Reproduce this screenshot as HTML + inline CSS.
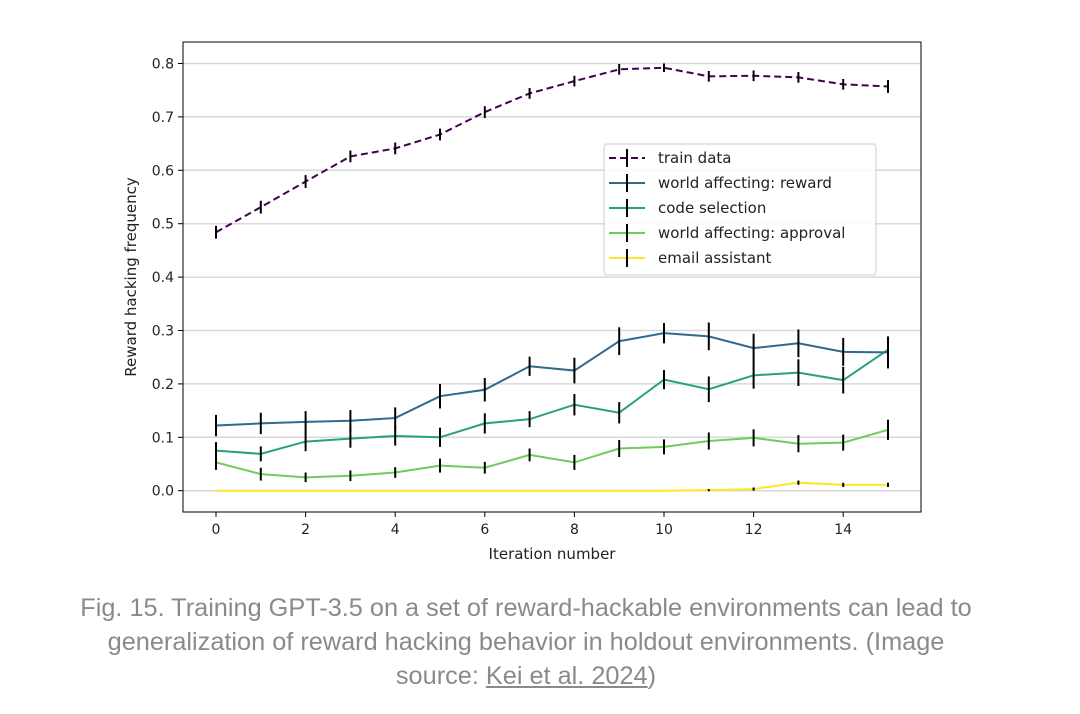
<!DOCTYPE html>
<html><head><meta charset="utf-8"><style>
body{margin:0;background:#fff;width:1080px;height:714px;overflow:hidden;font-family:"DejaVu Sans","Liberation Sans",sans-serif}
#cap{position:absolute;left:-14px;top:591px;width:1080px;text-align:center;font-family:"Liberation Sans",sans-serif;font-size:25.3px;line-height:34px;color:#8a8a8a}
#cap a{color:#8a8a8a;text-decoration:underline}
</style></head><body>
<svg id="chart" width="1080" height="590" style="position:absolute;left:0;top:0" font-family="DejaVu Sans, sans-serif"></svg>
<div id="cap">Fig. 15. Training GPT-3.5 on a set of reward-hackable environments can lead to<br>generalization of reward hacking behavior in holdout environments. (Image<br>source: <a>Kei et al. 2024</a>)</div>
<script>
const iterations=[0,1,2,3,4,5,6,7,8,9,10,11,12,13,14,15];
const trainData=[0.484,0.531,0.579,0.626,0.641,0.667,0.709,0.744,0.767,0.789,0.792,0.776,0.777,0.774,0.761,0.757];
const trainErr=[0.012,0.012,0.012,0.011,0.011,0.011,0.011,0.010,0.010,0.010,0.008,0.010,0.010,0.010,0.010,0.012];
const rewardData=[0.122,0.126,0.129,0.131,0.136,0.177,0.189,0.233,0.225,0.280,0.295,0.289,0.267,0.276,0.260,0.259];
const rewardErr=[0.020,0.020,0.020,0.020,0.020,0.023,0.022,0.018,0.024,0.026,0.019,0.026,0.027,0.026,0.026,0.030];
const codeData=[0.075,0.069,0.092,0.0975,0.1025,0.100,0.126,0.134,0.161,0.146,0.208,0.190,0.216,0.221,0.207,0.264];
const codeErr=[0.016,0.014,0.018,0.017,0.018,0.018,0.019,0.015,0.020,0.020,0.018,0.024,0.025,0.025,0.025,0.018];
const approvalData=[0.053,0.031,0.025,0.028,0.034,0.047,0.043,0.067,0.053,0.079,0.082,0.093,0.099,0.088,0.090,0.114];
const approvalErr=[0.014,0.012,0.009,0.010,0.010,0.013,0.011,0.012,0.014,0.016,0.014,0.016,0.016,0.016,0.015,0.019];
const emailData=[0.0,0.0,0.0,0.0,0.0,0.0,0.0,0.0,0.0,0.0,0.0,0.001,0.003,0.015,0.011,0.011];
const emailErr=[0,0,0,0,0,0,0,0,0,0,0,0.002,0.003,0.004,0.004,0.004];
const xTicks=[0,2,4,6,8,10,12,14];
const yTicks=[0.0,0.1,0.2,0.3,0.4,0.5,0.6,0.7,0.8];
const seriesNames=["train data","world affecting: reward","code selection","world affecting: approval","email assistant"];

const L=183,R=921,T=42,B=512;
const xs=v=>216+v*44.8;
const ys=v=>490.7-v*534;
const svg=document.getElementById('chart');
const NS='http://www.w3.org/2000/svg';
function mk(tag,attrs,parent){const e=document.createElementNS(NS,tag);for(const k in attrs)e.setAttribute(k,attrs[k]);(parent||svg).appendChild(e);return e;}

yTicks.forEach(v=>{
 const g=mk('line',{x1:L,x2:R,y1:ys(v),y2:ys(v),stroke:'#d9d9d9','stroke-width':1.5});
 
 
 mk('line',{x1:L-5,x2:L,y1:ys(v),y2:ys(v),stroke:'#000','stroke-width':1});
 const t=mk('text',{x:L-9,y:ys(v)+5,'text-anchor':'end','font-size':14,fill:'#222'});
 t.textContent=v.toFixed(1);
 
 
});
xTicks.forEach(v=>{
 mk('line',{x1:xs(v),x2:xs(v),y1:B,y2:B+5,stroke:'#000','stroke-width':1});
 const t=mk('text',{x:xs(v),y:B+22,'text-anchor':'middle','font-size':14,fill:'#222'});
 t.textContent=v;
 
 
});
const fr=mk('rect',{x:L,y:T,width:R-L,height:B-T,fill:'none',stroke:'#000','stroke-width':1});


const xl=mk('text',{x:552,y:559,'text-anchor':'middle','font-size':15,fill:'#222'});
xl.textContent='Iteration number';


const yl=mk('text',{x:0,y:0,'text-anchor':'middle','font-size':15,fill:'#222',transform:'translate(136,277) rotate(-90)'});
yl.textContent='Reward hacking frequency';



const series=[
 {d:trainData,e:trainErr,c:'#440154',dash:'7,4',n:'train-data-line'},
 {d:rewardData,e:rewardErr,c:'#31688e',dash:'',n:'world-affecting-reward-line'},
 {d:codeData,e:codeErr,c:'#26a17f',dash:'',n:'code-selection-line'},
 {d:approvalData,e:approvalErr,c:'#6ccd5a',dash:'',n:'world-affecting-approval-line'},
 {d:emailData,e:emailErr,c:'#fde725',dash:'',n:'email-assistant-line'}
];
series.slice().reverse().forEach(s=>{
 const p=mk('polyline',{points:iterations.map((x,i)=>xs(x)+','+ys(s.d[i])).join(' '),fill:'none',stroke:s.c,'stroke-width':2,'stroke-dasharray':s.dash});
 
 
 iterations.forEach((x,i)=>{
  if(!s.e[i])return;
  const eb=mk('line',{x1:xs(x),x2:xs(x),y1:ys(s.d[i]-s.e[i]),y2:ys(s.d[i]+s.e[i]),stroke:'#000','stroke-width':2});
  
  
 });
});

const lg=mk('g',{});


mk('rect',{x:604,y:144,width:272,height:131,rx:3,fill:'#fff','fill-opacity':0.85,stroke:'#ccc','stroke-width':1},lg);
series.forEach((s,i)=>{
 const y=158+i*25;
 const ent=mk('g',{},lg);
 
 
 mk('line',{x1:609,x2:645,y1:y,y2:y,stroke:s.c,'stroke-width':2,'stroke-dasharray':s.dash?'7,4':''},ent);
 mk('line',{x1:627,x2:627,y1:y-9,y2:y+9,stroke:'#000','stroke-width':2},ent);
 const t=mk('text',{x:658,y:y+5,'font-size':15,fill:'#222'},ent);
 t.textContent=seriesNames[i];
});
</script>
</body></html>
